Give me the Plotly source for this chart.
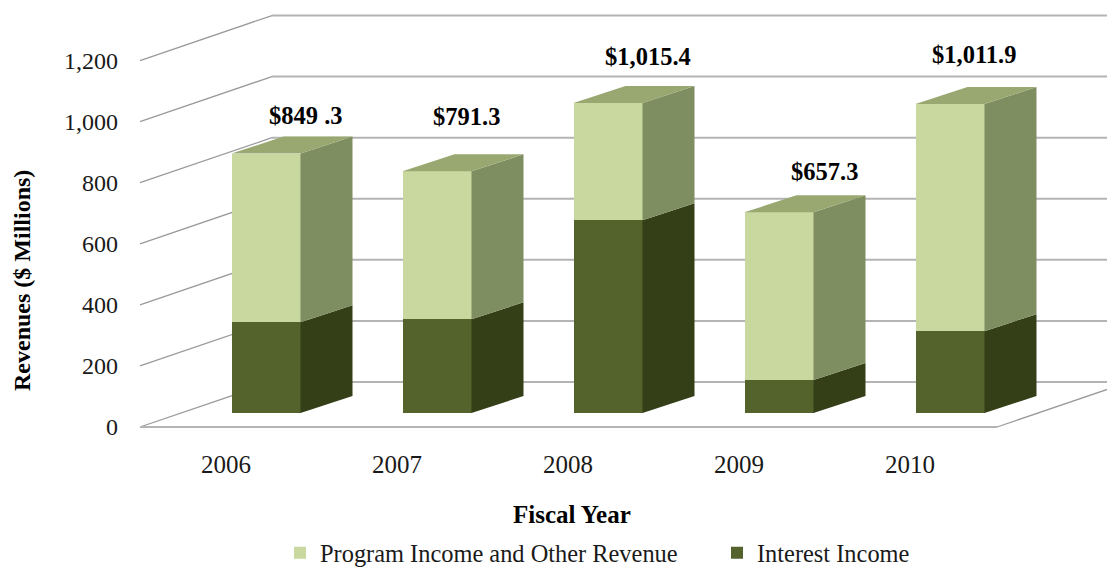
import plotly.graph_objects as go

# ---- data ----
years = [2006, 2007, 2008, 2009, 2010]
interest_income = [297, 307, 631, 108, 268]
totals = [849.3, 791.3, 1015.4, 657.3, 1011.9]
total_labels = ["$849 .3", "$791.3", "$1,015.4", "$657.3", "$1,011.9"]
y_ticks = [0, 200, 400, 600, 800, 1000, 1200]
y_tick_labels = ["0", "200", "400", "600", "800", "1,000", "1,200"]
program_income = [round(t - i, 1) for t, i in zip(totals, interest_income)]

# ---- geometry of the fake-3D Excel chart (window pixels) ----
W, H = 1115, 567
PAGE_MARGIN = 8      # the page's default body margin
FIG_W, FIG_H = W - PAGE_MARGIN, H - PAGE_MARGIN
PX_PER_YEAR = 171.0
PX_PER_UNIT = 0.3054
BAR_X0 = 266.0       # pixel centre of the first bar
BASE_Y = 413.0       # pixel of the bars' front base
FLOOR_Y = 427.0      # pixel of the wall's front edge (value 0)
BACK_Y = 382.0       # pixel of the back wall's value 0
WALL_L, WALL_B = 140.0, 272.0
FLOOR_R = 997.0
WALL_DX = 132.0
DEPTH_X, DEPTH_Y = 52.0, 17.0
BAR_W = 69.0
LABEL_DX = [40, 29, 40, 45, 24]     # label offsets from the bar's top centre
LABEL_DY = [38, 55, 46, 41, 49]

C_PROG_FRONT, C_PROG_SIDE, C_PROG_TOP = "#C8D89E", "#7F8E61", "#98A870"
C_INT_FRONT, C_INT_SIDE = "#54632B", "#343F18"
C_GRID, C_DIAG = "#B4B4B4", "#9A9A9A"
FONT = "Liberation Serif"
TXT = "#1a1a1a"


def xd(px):
    return years[0] + (px - BAR_X0) / PX_PER_YEAR


def yd(py):
    return (BASE_Y - py) / PX_PER_UNIT


def xp(px):
    return (px - PAGE_MARGIN) / FIG_W


def yp(py):
    return 1 - (py - PAGE_MARGIN) / FIG_H


ddx = DEPTH_X / PX_PER_YEAR
ddy = DEPTH_Y / PX_PER_UNIT
half = BAR_W / PX_PER_YEAR / 2

fig = go.Figure()
fig.add_bar(x=years, y=interest_income, width=BAR_W / PX_PER_YEAR, name="Interest Income",
            marker=dict(color=C_INT_FRONT, line_width=0), legend="legend2")
fig.add_bar(x=years, y=program_income, width=BAR_W / PX_PER_YEAR, name="Program Income and Other Revenue",
            marker=dict(color=C_PROG_FRONT, line_width=0), legend="legend")


def face(xs, ys, color):
    fig.add_scatter(x=xs, y=ys, mode="lines", fill="toself", fillcolor=color,
                    line=dict(width=0, color=color), showlegend=False, hoverinfo="skip")


for yr, i_val, tot in zip(years, interest_income, totals):
    r = yr + half
    l = yr - half
    face([r, r + ddx, r + ddx, r, r], [0, ddy, i_val + ddy, i_val, 0], C_INT_SIDE)
    face([r, r + ddx, r + ddx, r, r], [i_val, i_val + ddy, tot + ddy, tot, i_val], C_PROG_SIDE)
    face([l, l + ddx, r + ddx, r, l], [tot, tot + ddy, tot + ddy, tot, tot], C_PROG_TOP)

# invisible trace so that the labelled tick axes exist
fig.add_scatter(x=years, y=[0] * len(years), xaxis="x2", yaxis="y2", mode="markers",
                marker=dict(opacity=0), showlegend=False, hoverinfo="skip")

# walls and gridlines
shapes = []
back_off = (BASE_Y - BACK_Y) / PX_PER_UNIT
front_off = (BASE_Y - FLOOR_Y) / PX_PER_UNIT
for v in y_ticks:
    shapes.append(dict(type="line", layer="below", xref="x", yref="y", x0=xd(WALL_B), x1=xd(W),
                       y0=v + back_off, y1=v + back_off, line=dict(color=C_GRID, width=2)))
    shapes.append(dict(type="line", layer="below", xref="x", yref="y", x0=xd(WALL_L), x1=xd(WALL_B),
                       y0=v + front_off, y1=v + back_off, line=dict(color=C_DIAG, width=1.3)))
shapes.append(dict(type="line", layer="below", xref="x", yref="y", x0=xd(WALL_L), x1=xd(FLOOR_R),
                   y0=front_off, y1=front_off, line=dict(color=C_GRID, width=2)))
shapes.append(dict(type="line", layer="below", xref="x", yref="y", x0=xd(FLOOR_R), x1=xd(FLOOR_R + WALL_DX),
                   y0=front_off, y1=back_off, line=dict(color=C_DIAG, width=1.3)))

annotations = [
    dict(x=yr, y=tot, xref="x", yref="y", text=f"<b>{lab}</b>", showarrow=False,
         xanchor="center", yanchor="middle",
         xshift=dx, yshift=dy, font=dict(family=FONT, size=24.5, color="#000000"))
    for yr, tot, lab, dx, dy in zip(years, totals, total_labels, LABEL_DX, LABEL_DY)
]
annotations += [
    dict(x=xp(572), y=yp(514), xref="paper", yref="paper", text="<b>Fiscal Year</b>", showarrow=False,
         xanchor="center", yanchor="middle", font=dict(family=FONT, size=25, color="#000000")),
    dict(x=xp(22), y=yp(281), xref="paper", yref="paper", text="<b>Revenues ($ Millions)</b>", showarrow=False,
         xanchor="center", yanchor="middle", textangle=-90, font=dict(family=FONT, size=24, color="#000000")),
]

leg_common = dict(orientation="h", xanchor="left", y=yp(553), yanchor="middle",
                  font=dict(family=FONT, size=24.4, color=TXT), bgcolor="rgba(0,0,0,0)", itemclick=False)

fig.update_layout(
    width=FIG_W, height=FIG_H, autosize=False, margin=dict(l=0, r=0, t=0, b=0, autoexpand=False),
    paper_bgcolor="white", plot_bgcolor="rgba(0,0,0,0)",
    barmode="stack", shapes=shapes, annotations=annotations,
    font=dict(family=FONT, size=24, color=TXT),
    showlegend=True,
    legend=dict(x=xp(280), **leg_common),
    legend2=dict(x=xp(717), **leg_common),
    xaxis=dict(range=[xd(PAGE_MARGIN), xd(W)], visible=False, fixedrange=True),
    yaxis=dict(range=[yd(H), yd(PAGE_MARGIN)], visible=False, fixedrange=True),
    xaxis2=dict(overlaying="x", anchor="free", position=yp(447),
                range=[years[0] + (PAGE_MARGIN - 226) / PX_PER_YEAR, years[0] + (W - 226) / PX_PER_YEAR],
                tickvals=years, ticktext=[str(y) for y in years], showgrid=False, zeroline=False,
                showline=False, ticks="", tickfont=dict(family=FONT, size=25, color=TXT), fixedrange=True),
    yaxis2=dict(overlaying="y", anchor="free", position=xp(118),
                range=[(FLOOR_Y - H) / PX_PER_UNIT, (FLOOR_Y - PAGE_MARGIN) / PX_PER_UNIT],
                tickvals=y_ticks, ticktext=y_tick_labels, showgrid=False, zeroline=False,
                showline=False, ticks="", tickfont=dict(family=FONT, size=24, color=TXT), fixedrange=True),
)

fig.write_html("out.html")
